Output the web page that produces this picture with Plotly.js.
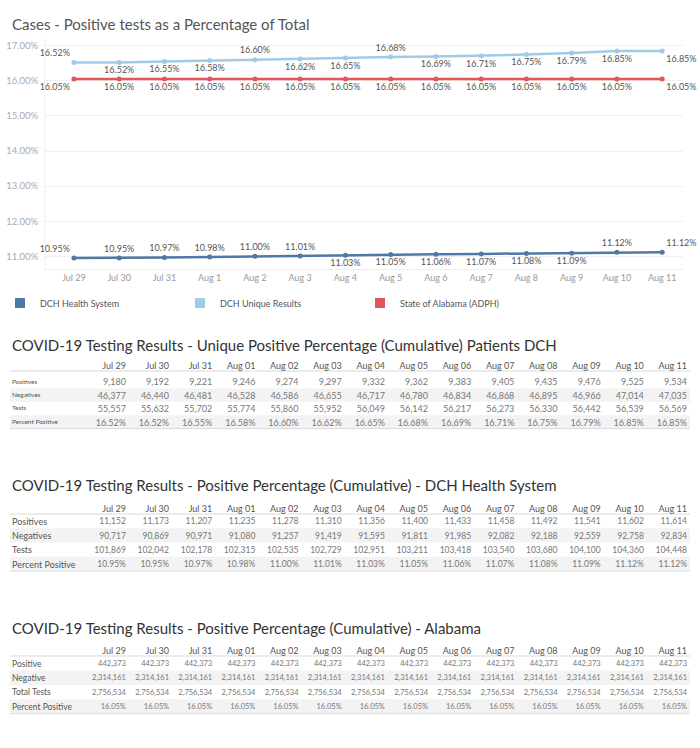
<!DOCTYPE html>
<html>
<head>
<meta charset="utf-8">
<script src="https://cdn.plot.ly/plotly-3.0.1.min.js"></script>
<style>
  html, body { margin: 0; padding: 0; background: #fff; }
  #chart { width: 700px; height: 748px; }
</style>
</head>
<body>
<div id="chart"></div>
<script>
// ---------------- DATA ----------------
const chartDates = ['Jul 29','Jul 30','Jul 31','Aug 1','Aug 2','Aug 3','Aug 4','Aug 5','Aug 6','Aug 7','Aug 8','Aug 9','Aug 10','Aug 11'];
const tableDates = ['Jul 29','Jul 30','Jul 31','Aug 01','Aug 02','Aug 03','Aug 04','Aug 05','Aug 06','Aug 07','Aug 08','Aug 09','Aug 10','Aug 11'];

const uniquePositives = [9180,9192,9221,9246,9274,9297,9332,9362,9383,9405,9435,9476,9525,9534];
const uniqueNegatives = [46377,46440,46481,46528,46586,46655,46717,46780,46834,46868,46895,46966,47014,47035];
const uniqueTests     = [55557,55632,55702,55774,55860,55952,56049,56142,56217,56273,56330,56442,56539,56569];
const uniquePct       = [16.52,16.52,16.55,16.58,16.60,16.62,16.65,16.68,16.69,16.71,16.75,16.79,16.85,16.85];

const dchPositives = [11152,11173,11207,11235,11278,11310,11356,11400,11433,11458,11492,11541,11602,11614];
const dchNegatives = [90717,90869,90971,91080,91257,91419,91595,91811,91985,92082,92188,92559,92758,92834];
const dchTests     = [101869,102042,102178,102315,102535,102729,102951,103211,103418,103540,103680,104100,104360,104448];
const dchPct       = [10.95,10.95,10.97,10.98,11.00,11.01,11.03,11.05,11.06,11.07,11.08,11.09,11.12,11.12];

const alPositives = [442373,442373,442373,442373,442373,442373,442373,442373,442373,442373,442373,442373,442373,442373];
const alNegatives = [2314161,2314161,2314161,2314161,2314161,2314161,2314161,2314161,2314161,2314161,2314161,2314161,2314161,2314161];
const alTests     = [2756534,2756534,2756534,2756534,2756534,2756534,2756534,2756534,2756534,2756534,2756534,2756534,2756534,2756534];
const alPct       = [16.05,16.05,16.05,16.05,16.05,16.05,16.05,16.05,16.05,16.05,16.05,16.05,16.05,16.05];

const seriesNames = ['DCH Health System','DCH Unique Results','State of Alabama (ADPH)'];
const uniqueRowLabels = ['Positives','Negatives','Tests','Percent Positive'];
const dchRowLabels    = ['Positives','Negatives','Tests','Percent Positive'];
const alRowLabels     = ['Positive','Negative','Total Tests','Percent Positive'];

const chartTitle = 'Cases - Positive tests as a Percentage of Total';
const table1Title = 'COVID-19 Testing Results - Unique Positive Percentage (Cumulative) Patients DCH';
const table2Title = 'COVID-19 Testing Results - Positive Percentage (Cumulative) - DCH Health System';
const table3Title = 'COVID-19 Testing Results - Positive Percentage (Cumulative) - Alabama';

// ---------------- STYLE ----------------
const W = 700, H = 748;
const FONT = 'Lato, "Open Sans", sans-serif';
const cDark = '#4e79a7', cLight = '#a0cbe8', cRed = '#e15759';
const px = v => v / W;          // pixel -> paper x
const py = v => 1 - v / H;      // pixel -> paper y
const NB = s => s.replace(/ /g, '\u00a0');   // keep labels on one line
const CLEAR = 'rgba(0,0,0,0)';

function fmtInt(n){ return String(n).replace(/\B(?=(\d{3})+(?!\d))/g, ','); }
function fmtPct(n){ return n.toFixed(2) + '%'; }

const C = 'bottom center', T = 'top center';
const lightPos = ['top left',C,C,C,T,C,C,T,C,C,C,C,C,'bottom right'];
const redPos = ['bottom left',C,C,C,C,C,C,C,C,C,C,C,C,'bottom right'];
const darkPos = ['top left',T,T,T,T,T,C,C,C,C,C,C,T,'top right'];

function lineTrace(y, color, pos){
  return {
    type: 'scatter', mode: 'lines+markers+text',
    x: chartDates, y: y,
    line: {color: color, width: 2.5},
    marker: {color: color, size: 5},
    texttemplate: '%{y:.2f}%',
    textposition: pos,
    textfont: {family: FONT, size: 9, color: '#555'},
    cliponaxis: false,
    showlegend: false, hoverinfo: 'skip',
    xaxis: 'x', yaxis: 'y'
  };
}
function legendTrace(name, color){
  return {
    type: 'scatter', mode: 'markers', x: [null], y: [null], name: name,
    marker: {color: color, size: 10, symbol: 'square'},
    showlegend: true, hoverinfo: 'skip', xaxis: 'x', yaxis: 'y'
  };
}

// geometry of each table (pixels): header top, header height, row height
const tbl1 = {top: 354,   headH: 16.7, rowH: 13.4, lineTop: 371, labelSize: 6.5, valueSize: 9};
const tbl2 = {top: 497,   headH: 13,   rowH: 14.3, lineTop: 514, labelSize: 9,   valueSize: 8.5};
const tbl3 = {top: 639.7, headH: 12.6, rowH: 14.4, lineTop: 656, labelSize: 8.5, valueSize: 7.5};

function tableTrace(rowLabels, cols, g){
  const values = [rowLabels.map(NB)];
  for (let i = 0; i < tableDates.length; i++) values.push(cols.map(c => c[i]));
  const sizes = [g.labelSize].concat(tableDates.map(() => g.valueSize));
  const colors = ['#555'].concat(tableDates.map(() => '#777'));
  const align = ['left'].concat(tableDates.map(() => 'right'));
  const widths = [86.8].concat(tableDates.map(() => 43.2));
  return {
    type: 'table',
    domain: {x: [px(4), px(695)], y: [py(g.top + 100), py(g.top)]},
    columnwidth: widths,
    header: {
      values: [''].concat(tableDates.map(NB)),
      align: align, height: g.headH,
      font: {family: FONT, size: 9, color: '#555'},
      fill: {color: CLEAR},
      line: {color: CLEAR, width: 0}
    },
    cells: {
      values: values,
      align: align, height: g.rowH,
      font: {family: FONT, size: sizes, color: colors},
      fill: {color: CLEAR},
      line: {color: CLEAR, width: 0}
    }
  };
}

const traces = [
  lineTrace(uniquePct, cLight, lightPos),
  lineTrace(alPct, cRed, redPos),
  lineTrace(dchPct, cDark, darkPos),
  legendTrace(seriesNames[0], cDark),
  legendTrace(seriesNames[1], cLight),
  legendTrace(seriesNames[2], cRed),
  tableTrace(uniqueRowLabels, [uniquePositives.map(fmtInt), uniqueNegatives.map(fmtInt), uniqueTests.map(fmtInt), uniquePct.map(fmtPct)], tbl1),
  tableTrace(dchRowLabels, [dchPositives.map(fmtInt), dchNegatives.map(fmtInt), dchTests.map(fmtInt), dchPct.map(fmtPct)], tbl2),
  tableTrace(alRowLabels, [alPositives.map(fmtInt), alNegatives.map(fmtInt), alTests.map(fmtInt), alPct.map(fmtPct)], tbl3)
];

function titleAnn(text, yPx, size, color){
  return {text: text, xref: 'paper', yref: 'paper', x: px(10), y: py(yPx),
          xanchor: 'left', yanchor: 'middle', showarrow: false,
          font: {family: FONT, size: size, color: color}};
}
function hline(yPx){
  return {type: 'line', xref: 'paper', yref: 'paper', x0: px(10), x1: px(690),
          y0: py(yPx), y1: py(yPx), line: {color: '#d9d9d9', width: 1}, layer: 'below'};
}
function band(y0, y1){
  return {type: 'rect', xref: 'paper', yref: 'paper', x0: px(10), x1: px(690),
          y0: py(y1), y1: py(y0), fillcolor: '#f3f3f3', line: {width: 0}, layer: 'below'};
}
function tableDecor(g){
  // text sits ~11px below a Plotly cell top; Tableau bands are centred on the text
  const r1 = g.top + g.headH;          // first row top (plotly)
  const c = i => r1 + 11 + i * g.rowH;  // text centre of row i
  const half = g.rowH / 2;
  return [
    band(c(1) - half, c(1) + half),
    band(c(3) - half, c(3) + half),
    hline(g.lineTop),
    hline(c(3) + half)
  ];
}

const layout = {
  width: W, height: H, autosize: false,
  margin: {l: 0, r: 0, t: 0, b: 0},
  paper_bgcolor: '#fff', plot_bgcolor: 'rgba(0,0,0,0)',
  font: {family: FONT, color: '#555'},
  xaxis: {
    domain: [px(45), px(683)], type: 'category',
    range: [-0.64, 13.46],
    showgrid: false, zeroline: false, showline: true, linecolor: '#eeeeee',
    ticks: '', tickfont: {family: FONT, size: 9, color: '#999'},
    anchor: 'y', fixedrange: true
  },
  yaxis: {
    domain: [py(269), py(38)],
    range: [10.64, 17.22], dtick: 1, tick0: 11,
    tickformat: '.2f', ticksuffix: '%',
    showgrid: true, gridcolor: '#efefef', zeroline: false,
    showline: true, linecolor: '#f2f2f2',
    ticks: '', ticklabelstandoff: 4,
    tickfont: {family: FONT, size: 9.5, color: '#aaa'},
    anchor: 'x', fixedrange: true
  },
  showlegend: true,
  legend: {
    orientation: 'h', x: 0, y: py(303), xanchor: 'left', yanchor: 'middle',
    entrywidth: 135, entrywidthmode: 'pixels',
    font: {family: FONT, size: 9, color: '#555'},
    bgcolor: 'rgba(0,0,0,0)', itemclick: false, itemdoubleclick: false
  },
  annotations: [
    titleAnn(chartTitle, 24, 15, '#555'),
    titleAnn(table1Title, 345, 15, '#333'),
    titleAnn(table2Title, 485, 15, '#333'),
    titleAnn(table3Title, 628, 15, '#333')
  ],
  shapes: [].concat(tableDecor(tbl1), tableDecor(tbl2), tableDecor(tbl3))
};

Plotly.newPlot('chart', traces, layout, {staticPlot: true, displayModeBar: false});
</script>
</body>
</html>
